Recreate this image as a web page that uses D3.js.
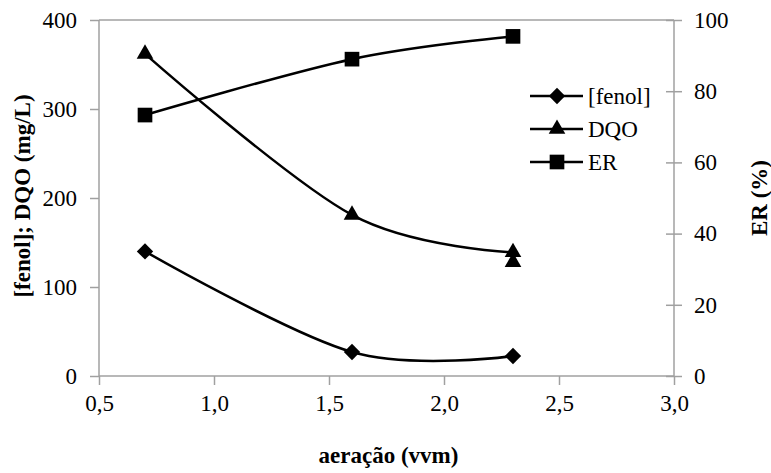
<!DOCTYPE html>
<html><head><meta charset="utf-8">
<script src="https://cdn.jsdelivr.net/npm/d3@7"></script>
<style>body{margin:0;background:#fff} svg text{font-family:"Liberation Serif","Times New Roman",Times,"Nimbus Roman","DejaVu Serif",serif !important;}</style>
</head><body>
<script>
const aeracao = [0.7, 1.6, 2.3];
const fenol = [140, 27, 22.5];
const dqo = [362, 181, 139];
const dqoExtra = [{x: 2.3, y: 128}];
const er = [73.3, 89, 95.4];
const xTicks = [0.5, 1.0, 1.5, 2.0, 2.5, 3.0];
const yLeftTicks = [0, 100, 200, 300, 400];
const yRightTicks = [0, 20, 40, 60, 80, 100];
const seriesNames = ["[fenol]", "DQO", "ER"];

const W = 771, H = 473;
const svg = d3.select("body").append("svg").attr("width", W).attr("height", H);

const x = d3.scaleLinear().domain([0.5, 3.0]).range([99, 674]);
const yL = d3.scaleLinear().domain([0, 400]).range([376, 20]);
const yR = d3.scaleLinear().domain([0, 100]).range([376, 20]);
const fmt = d => d.toFixed(1).replace(".", ",");
const gray = "#a0a0a0";

// top border
svg.append("line").attr("x1", x(0.5)).attr("x2", x(3.0)).attr("y1", yL(400)).attr("y2", yL(400))
  .attr("stroke", gray).attr("stroke-width", 1.5);

// axes
const gx = svg.append("g").attr("transform", `translate(0,${yL(0)})`)
  .call(d3.axisBottom(x).tickValues(xTicks).tickFormat(fmt).tickSize(9).tickPadding(10));
const gl = svg.append("g").attr("transform", `translate(${x(0.5)},0)`)
  .call(d3.axisLeft(yL).tickValues(yLeftTicks).tickSize(9).tickPadding(13));
const gr = svg.append("g").attr("transform", `translate(${x(3.0)},0)`)
  .call(d3.axisRight(yR).tickValues(yRightTicks).tickSize(8).tickPadding(12));
gr.selectAll(".tick line").attr("x1", -8);
[gx, gl, gr].forEach(g => {
  g.attr("font-family", null);
  g.select(".domain").attr("stroke", gray).attr("stroke-width", 1.5);
  g.selectAll(".tick line").attr("stroke", gray).attr("stroke-width", 1.5);
  g.selectAll("text").attr("font-size", 23).attr("fill", "#000");
});
gx.select(".domain").attr("d", `M${x(0.5)},0H${x(3.0)}`);
gl.select(".domain").attr("d", `M0,${yL(0)}V${yL(400)}`);
gr.select(".domain").attr("d", `M0,${yR(0)}V${yR(100)}`);

// titles
svg.append("text").attr("x", (x(0.5) + x(3.0)) / 2 + 2).attr("y", 463).attr("text-anchor", "middle")
  .attr("font-size", 23).attr("font-weight", "bold").text("aeração (vvm)");
svg.append("text").attr("transform", "translate(30,196) rotate(-90)").attr("text-anchor", "middle")
  .attr("font-size", 23).attr("font-weight", "bold").text("[fenol]; DQO (mg/L)");
svg.append("text").attr("transform", "translate(767,198) rotate(-90)").attr("text-anchor", "middle")
  .attr("font-size", 23).attr("font-weight", "bold").text("ER (%)");

const curve = d3.curveCardinal.tension(0);
function series(vals, yScale) {
  const pts = aeracao.map((a, i) => ({x: a, y: vals[i]}));
  svg.append("path").datum(pts)
    .attr("d", d3.line().x(d => x(d.x)).y(d => yScale(d.y)).curve(curve))
    .attr("fill", "none").attr("stroke", "#000").attr("stroke-width", 2.5);
  return pts;
}
const symDiamond = d3.symbol().type(d3.symbolDiamond2).size(170);
const symTri = d3.symbol().type(d3.symbolTriangle).size(120);
const symSq = d3.symbol().type(d3.symbolSquare).size(215);
function markers(pts, yScale, sym) {
  svg.append("g").selectAll("path").data(pts).join("path")
    .attr("transform", d => `translate(${x(d.x)},${yScale(d.y)})`)
    .attr("d", sym).attr("fill", "#000");
}
const pF = series(fenol, yL);
const pD = series(dqo, yL);
const pE = series(er, yR);
markers(pF, yL, symDiamond);
markers(pD.concat(dqoExtra), yL, symTri);
markers(pE, yR, symSq);

// legend
const syms = [symDiamond, symTri, symSq];
const lg = svg.append("g");
seriesNames.forEach((n, i) => {
  const yy = 96 + i * 33;
  lg.append("line").attr("x1", 530).attr("x2", 583).attr("y1", yy).attr("y2", yy)
    .attr("stroke", "#000").attr("stroke-width", 2.5);
  lg.append("path").attr("transform", `translate(557,${yy})`).attr("d", syms[i]).attr("fill", "#000");
  lg.append("text").attr("x", 588).attr("y", yy).attr("dy", "0.35em").attr("font-size", 23).text(n);
});
</script>
</body></html>
